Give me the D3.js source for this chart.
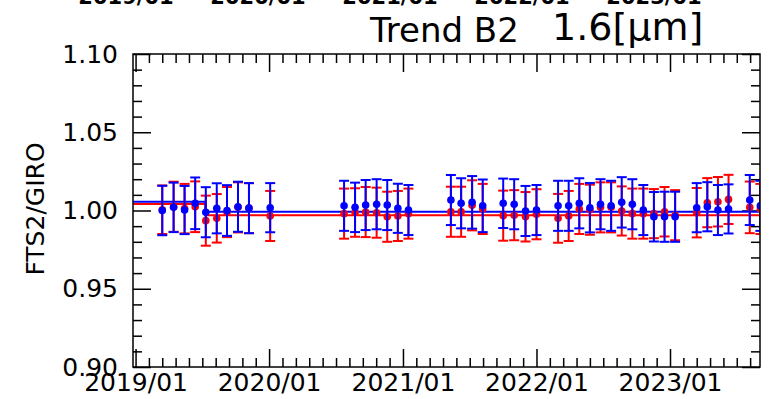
<!DOCTYPE html>
<html><head><meta charset="utf-8">
<script src="https://cdn.jsdelivr.net/npm/d3@7/dist/d3.min.js"></script>
<style>
body{margin:0;background:#fff}
text{font-family:"DejaVu Sans",sans-serif;fill:#000}
</style></head>
<body><svg id="c" width="774" height="399"></svg>
<script>
const dates = ["2019-03-15","2019-04-15","2019-05-15","2019-06-13","2019-07-12","2019-08-11","2019-09-08","2019-10-08","2019-11-07","2020-01-04",
"2020-07-24","2020-08-23","2020-09-21","2020-10-21","2020-11-19","2020-12-18","2021-01-16",
"2021-05-12","2021-06-09","2021-07-09","2021-08-07","2021-10-02","2021-11-01","2021-12-02",
"2022-01-01","2022-03-01","2022-03-30","2022-04-28","2022-05-27","2022-06-25","2022-07-24","2022-08-22","2022-09-20","2022-10-20","2022-11-18","2022-12-17",
"2023-01-15","2023-03-15","2023-04-13","2023-05-12","2023-06-10","2023-08-07","2023-09-05"];
const blueVals = [1.000,1.002,1.0003,1.0046,0.9989,1.0014,1.000,1.0024,1.0015,1.0018,
1.003,1.002,1.0035,1.004,1.0035,1.0014,1.0003,
1.0067,1.0046,1.0052,1.003,1.0046,1.004,0.9997,
1.0003,1.003,1.003,1.0046,1.0018,1.004,1.003,1.0052,1.004,1.0003,0.996,0.996,
0.996,1.0018,1.0024,1.0003,1.001,1.0067,1.003];
const blueErr = [0.0158,0.0158,0.0154,0.0165,0.016,0.016,0.0162,0.016,0.016,0.0157,
0.016,0.0158,0.016,0.016,0.016,0.0157,0.016,
0.016,0.016,0.0168,0.0168,0.0158,0.016,0.016,
0.016,0.016,0.016,0.016,0.0158,0.016,0.016,0.0161,0.016,0.016,0.0158,0.016,
0.016,0.0157,0.0157,0.016,0.0157,0.016,0.016];
const redVals = [1.0005,1.0024,1.0012,1.0024,0.9935,0.995,0.999,1.002,1.0015,0.9965,
0.998,0.9987,0.999,0.9986,0.996,0.9965,0.998,
0.9992,0.9992,1.0033,1.001,0.9967,0.997,0.996,
0.9976,0.995,0.9965,1.001,1.0005,1.002,1.002,0.9997,0.998,0.998,0.998,0.9992,
0.997,0.9986,1.005,1.0056,1.0071,1.002,1.001];
const redErr = [0.0155,0.016,0.0158,0.0162,0.016,0.0155,0.016,0.016,0.016,0.016,
0.016,0.0155,0.016,0.016,0.016,0.016,0.016,
0.016,0.016,0.016,0.016,0.016,0.016,0.0158,
0.016,0.0156,0.016,0.016,0.016,0.016,0.016,0.0157,0.016,0.016,0.0157,0.0158,
0.016,0.0158,0.0157,0.0158,0.0157,0.0165,0.016];
const meanDates = ["2018-12-25","2019-07-11","2023-09-30"];
const blueMean = [1.0056, 0.9992];
const redMean = [1.0041, 0.9970];
const yTicks = [0.90, 0.95, 1.00, 1.05, 1.10];
const yTickLabels = ["0.90","0.95","1.00","1.05","1.10"];
const xTickDates = ["2019-01-01","2020-01-01","2021-01-01","2022-01-01","2023-01-01"];
const xTickLabels = ["2019/01","2020/01","2021/01","2022/01","2023/01"];
const topCutLabels = ["2019/01","2020/01","2021/01","2022/01","2023/01"];
const xDomain = ["2018-12-25","2023-09-04"];
const yDomain = [0.90, 1.10];

const P = d3.timeParse("%Y-%m-%d");
const svg = d3.select("#c");
const L = 133, R = 760, T = 54, B = 367;
const x = d3.scaleTime().domain(xDomain.map(P)).range([L, R]);
const y = d3.scaleLinear().domain(yDomain).range([B, T]);

// minor ticks: 10 per year
const minorX = [];
d3.timeYear.range(new Date(2018,0,1), new Date(2024,0,1)).forEach(s => {
  const e = d3.timeYear.offset(s, 1);
  for (let k = 1; k < 10; k++) minorX.push(new Date(+s + k/10*(e - s)));
});
const minorXIn = minorX.filter(d => d >= x.domain()[0] && d <= x.domain()[1]);
const majorX = xTickDates.map(P);
const minorY = d3.range(91, 110).map(v => v/100).filter(v => Math.abs(v*20 - Math.round(v*20)) > 1e-6);

function styleAxis(g){ g.select(".domain").remove(); g.selectAll("line").attr("stroke","#000").attr("stroke-width",1.5); }

// bottom
svg.append("g").attr("transform",`translate(0,${B})`).call(d3.axisBottom(x).tickValues(minorXIn).tickSize(-9).tickFormat("")).call(styleAxis);
const bx = svg.append("g").attr("transform",`translate(0,${B})`)
  .call(d3.axisBottom(x).tickValues(majorX).tickSize(-18).tickPadding(6).tickFormat((d,i)=>xTickLabels[i])).call(styleAxis);
bx.selectAll("text").style("font-size","25px").style("font-family","DejaVu Sans");
// top
svg.append("g").attr("transform",`translate(0,${T})`).call(d3.axisTop(x).tickValues(minorXIn).tickSize(-9).tickFormat("")).call(styleAxis);
svg.append("g").attr("transform",`translate(0,${T})`).call(d3.axisTop(x).tickValues(majorX).tickSize(-18).tickFormat("")).call(styleAxis);
// left
svg.append("g").attr("transform",`translate(${L},0)`).call(d3.axisLeft(y).tickValues(minorY).tickSize(-9).tickFormat("")).call(styleAxis);
const ly = svg.append("g").attr("transform",`translate(${L},0)`)
  .call(d3.axisLeft(y).tickValues(yTicks).tickSize(-18).tickPadding(15).tickFormat((d,i)=>yTickLabels[i])).call(styleAxis);
ly.selectAll("text").style("font-size","25px").style("font-family","DejaVu Sans");
// right
svg.append("g").attr("transform",`translate(${R},0)`).call(d3.axisRight(y).tickValues(minorY).tickSize(-9).tickFormat("")).call(styleAxis);
svg.append("g").attr("transform",`translate(${R},0)`).call(d3.axisRight(y).tickValues(yTicks).tickSize(-18).tickFormat("")).call(styleAxis);

// clip
svg.append("clipPath").attr("id","clip").append("rect").attr("x",L).attr("y",T).attr("width",R-L).attr("height",B-T);
const plot = svg.append("g").attr("clip-path","url(#clip)");

const data = dates.map((d,i)=>({d:P(d), b:blueVals[i], be:blueErr[i], r:redVals[i], re:redErr[i]}));

// mean step lines
const stepLine = d3.line().x(p=>x(p[0])).y(p=>y(p[1])).curve(d3.curveStepAfter);
function meanPts(vals){ return [[P(meanDates[0]),vals[0]],[P(meanDates[1]),vals[1]],[P(meanDates[2]),vals[1]]]; }

function series(key, ekey, color){
  const g = plot.append("g");
  g.selectAll("line.bar").data(data).join("line").attr("x1",d=>x(d.d)).attr("x2",d=>x(d.d))
    .attr("y1",d=>y(d[key]-d[ekey])).attr("y2",d=>y(d[key]+d[ekey])).attr("stroke",color).attr("stroke-width",2);
  ["+","-"].forEach(s=>{
    g.selectAll("line.cap"+(s==="+"?"u":"l")).data(data).join("line")
      .attr("x1",d=>x(d.d)-5).attr("x2",d=>x(d.d)+5)
      .attr("y1",d=>y(s==="+"?d[key]+d[ekey]:d[key]-d[ekey])).attr("y2",d=>y(s==="+"?d[key]+d[ekey]:d[key]-d[ekey]))
      .attr("stroke",color).attr("stroke-width",2);
  });
  g.selectAll("circle").data(data).join("circle").attr("cx",d=>x(d.d)).attr("cy",d=>y(d[key])).attr("r",3.8).attr("fill",color);
}
plot.append("path").datum(meanPts(redMean)).attr("d",stepLine).attr("fill","none").attr("stroke","#ff0000").attr("stroke-width",2);
plot.append("path").datum(meanPts(blueMean)).attr("d",stepLine).attr("fill","none").attr("stroke","#0000ff").attr("stroke-width",2);
series("r","re","#ff0000");
series("b","be","#0000ff");

// frame
svg.append("rect").attr("x",L).attr("y",T).attr("width",R-L).attr("height",B-T).attr("fill","none").attr("stroke","#000").attr("stroke-width",1.5);

// y label
svg.append("text").attr("transform","translate(44,209) rotate(-90)").attr("text-anchor","middle").style("font-size","25px").text("FTS2/GIRO");

// title
svg.append("text").attr("x",370).attr("y",42).style("font-size","34px").text("Trend B2");
svg.append("text").attr("x",552).attr("y",40).style("font-size","38px").text("1.6[μm]");

// cut-off labels from previous panel at the very top
const topX = d3.scaleLinear().domain([0, topCutLabels.length-1]).range([126, 654]);
svg.append("g").selectAll("text").data(topCutLabels).join("text")
  .attr("x",(d,i)=>topX(i)).attr("y",4).attr("text-anchor","middle").style("font-size","21px").style("font-weight","bold").text(d=>d);
</script></body></html>
